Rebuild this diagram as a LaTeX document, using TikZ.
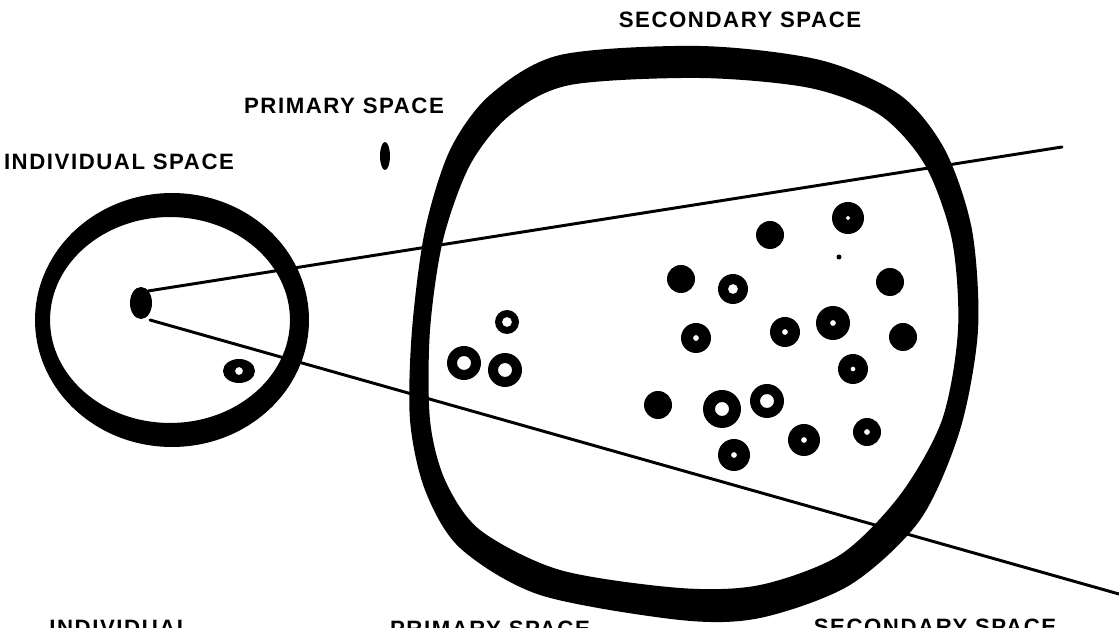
\documentclass[tikz,border=0pt]{standalone}
\usepackage{fontspec}
\newfontfamily\sketchfont[LetterSpace=7]{Liberation Sans}
\usepackage{tikz}

\begin{document}
\begin{tikzpicture}[x=0.025cm,y=-0.025cm,
    lbl/.style={font=\sketchfont\bfseries\fontsize{15.8}{18}\selectfont,inner sep=0pt},
    rim/.style={line width=8.5pt},
    ray/.style={line width=2.1pt,line cap=round}]
  \useasboundingbox (0,0) rectangle (1119,628);

  % secondary space
  \fill[even odd rule]
    plot[smooth cycle] coordinates {(700,46) (820,60) (900,95) (945,150) (972,230)
      (978,330) (960,430) (920,520) (850,585) (760,618) (680,620) (540,595)
      (460,548) (425,490) (410,420) (412,330) (425,230) (450,150) (490,95) (560,55)}
    plot[smooth cycle] coordinates {(700,78) (810,88) (880,115) (925,165) (952,240)
      (958,330) (942,420) (900,495) (840,555) (760,585) (680,588) (560,570)
      (480,530) (445,480) (430,420) (430,330) (443,240) (470,165) (510,115) (570,85)};

  % individual / primary space
  \draw[rim] (172,320) ellipse [x radius=131, y radius=121];
  \draw[rim,line width=10pt] (170,320) ellipse [x radius=127, y radius=110];

  % rays from the apex
  \fill (141,303) ellipse [x radius=11, y radius=16];
  \coordinate (apexT) at (148,291);
  \coordinate (apexB) at (150,320);
  \coordinate (farT) at (1062,147);
  \coordinate (farB) at (1119,594);
  \draw[ray] (apexT) -- (farT);
  \draw[ray] (apexB) -- (farB);

  % seeds
  \foreach \sx/\sy/\sr/\sh in {848/218/16/2, 733/289/15/5, 696/338/15/3,
      785/332/15/3, 833/323/17/3, 853/369/15/2.5, 722/409/19/7, 767/401/17/7,
      804/440/16/3, 867/432/14/3, 734/455/16/3, 507/322/12/5, 464/363/17/7,
      505/370/17/7}
    \fill[even odd rule] (\sx,\sy) circle[radius=\sr] (\sx,\sy) circle[radius=\sh];
  \foreach \sx/\sy/\sr in {770/235/14, 681/279/14, 890/282/14, 903/337/14,
      658/405/14, 839/257/2.5}
    \fill (\sx,\sy) circle[radius=\sr];
  \fill[even odd rule] (239,371) ellipse [x radius=16, y radius=12]
    (239,371) circle[radius=4];

  % pencil mark
  \fill (385,156) ellipse [x radius=5, y radius=14];

  % labels
  \node[lbl] (sec) at (740,20) {SECONDARY SPACE};
  \node[lbl] (prim) at (344,106) {PRIMARY SPACE};
  \node[lbl] (indiv) at (119,162) {INDIVIDUAL SPACE};
  \node[lbl,anchor=north] (indivB) at (120,620) {INDIVIDUAL};
  \node[lbl,anchor=north] (primB) at (490,621) {PRIMARY SPACE};
  \node[lbl,anchor=north] (secB) at (935,619) {SECONDARY SPACE};
\end{tikzpicture}
\end{document}
